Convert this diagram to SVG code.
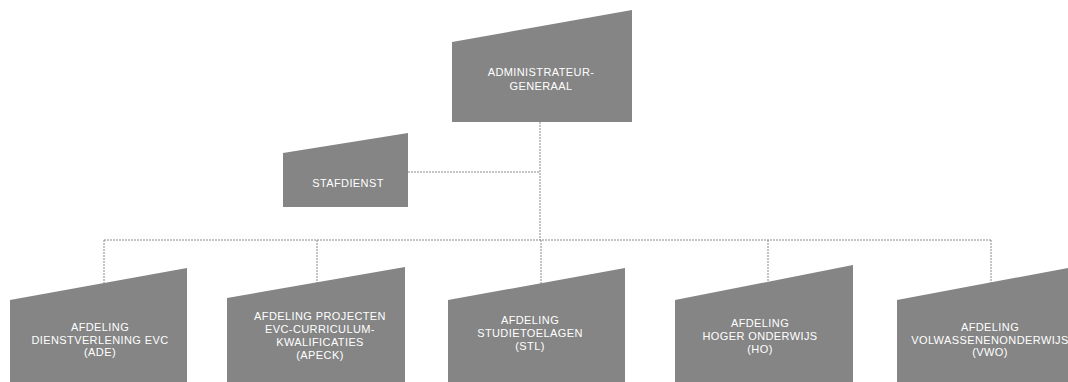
<svg xmlns="http://www.w3.org/2000/svg" width="1068" height="382" viewBox="0 0 1068 382">
<style>
.box{fill:#858585;}
.lbl{font-family:"Liberation Sans",Arial,sans-serif;font-size:11px;fill:#ffffff;text-anchor:middle;letter-spacing:0.4px;}
.con{stroke:#8a8a8a;stroke-width:1;fill:none;stroke-dasharray:2 1;}
</style>
<rect width="1068" height="382" fill="#ffffff"/>
<g id="connectors">
<path class="con" d="M540,122 V240"/>
<path class="con" d="M408,172 H540"/>
<path class="con" d="M104,240 H991"/>
<path class="con" d="M104,240 V284"/>
<path class="con" d="M317,240 V284"/>
<path class="con" d="M541,240 V285"/>
<path class="con" d="M768,240 V283"/>
<path class="con" d="M991,240 V284"/>
</g>
<g id="node-ag">
<polygon class="box" points="452,42 632,10 632,122 452,122"/>
<text class="lbl" x="541" y="76">ADMINISTRATEUR-</text>
<text class="lbl" x="541" y="90">GENERAAL</text>
</g>
<g id="node-stafdienst">
<polygon class="box" points="283,153 408,133 408,207 283,207"/>
<text class="lbl" x="348" y="187">STAFDIENST</text>
</g>
<g id="node-ade">
<polygon class="box" points="10,300 187,268 187,382 10,382"/>
<text class="lbl" x="100" y="331">AFDELING</text>
<text class="lbl" x="100" y="344">DIENSTVERLENING  EVC</text>
<text class="lbl" x="100" y="356">(ADE)</text>
</g>
<g id="node-apeck">
<polygon class="box" points="227,298 405,267 405,382 227,382"/>
<text class="lbl" x="320" y="320">AFDELING PROJECTEN</text>
<text class="lbl" x="320" y="333">EVC-CURRICULUM-</text>
<text class="lbl" x="320" y="346">KWALIFICATIES</text>
<text class="lbl" x="320" y="359">(APECK)</text>
</g>
<g id="node-stl">
<polygon class="box" points="448,300 625,268 625,382 448,382"/>
<text class="lbl" x="530" y="324">AFDELING</text>
<text class="lbl" x="530" y="337">STUDIETOELAGEN</text>
<text class="lbl" x="530" y="350">(STL)</text>
</g>
<g id="node-ho">
<polygon class="box" points="675,300 853,265 853,382 675,382"/>
<text class="lbl" x="760" y="327">AFDELING</text>
<text class="lbl" x="760" y="340">HOGER ONDERWIJS</text>
<text class="lbl" x="760" y="353">(HO)</text>
</g>
<g id="node-vwo">
<polygon class="box" points="897,300 1068,268 1068,382 897,382"/>
<text class="lbl" x="990" y="331">AFDELING</text>
<text class="lbl" x="990" y="344">VOLWASSENENONDERWIJS</text>
<text class="lbl" x="990" y="356">(VWO)</text>
</g>
</svg>
